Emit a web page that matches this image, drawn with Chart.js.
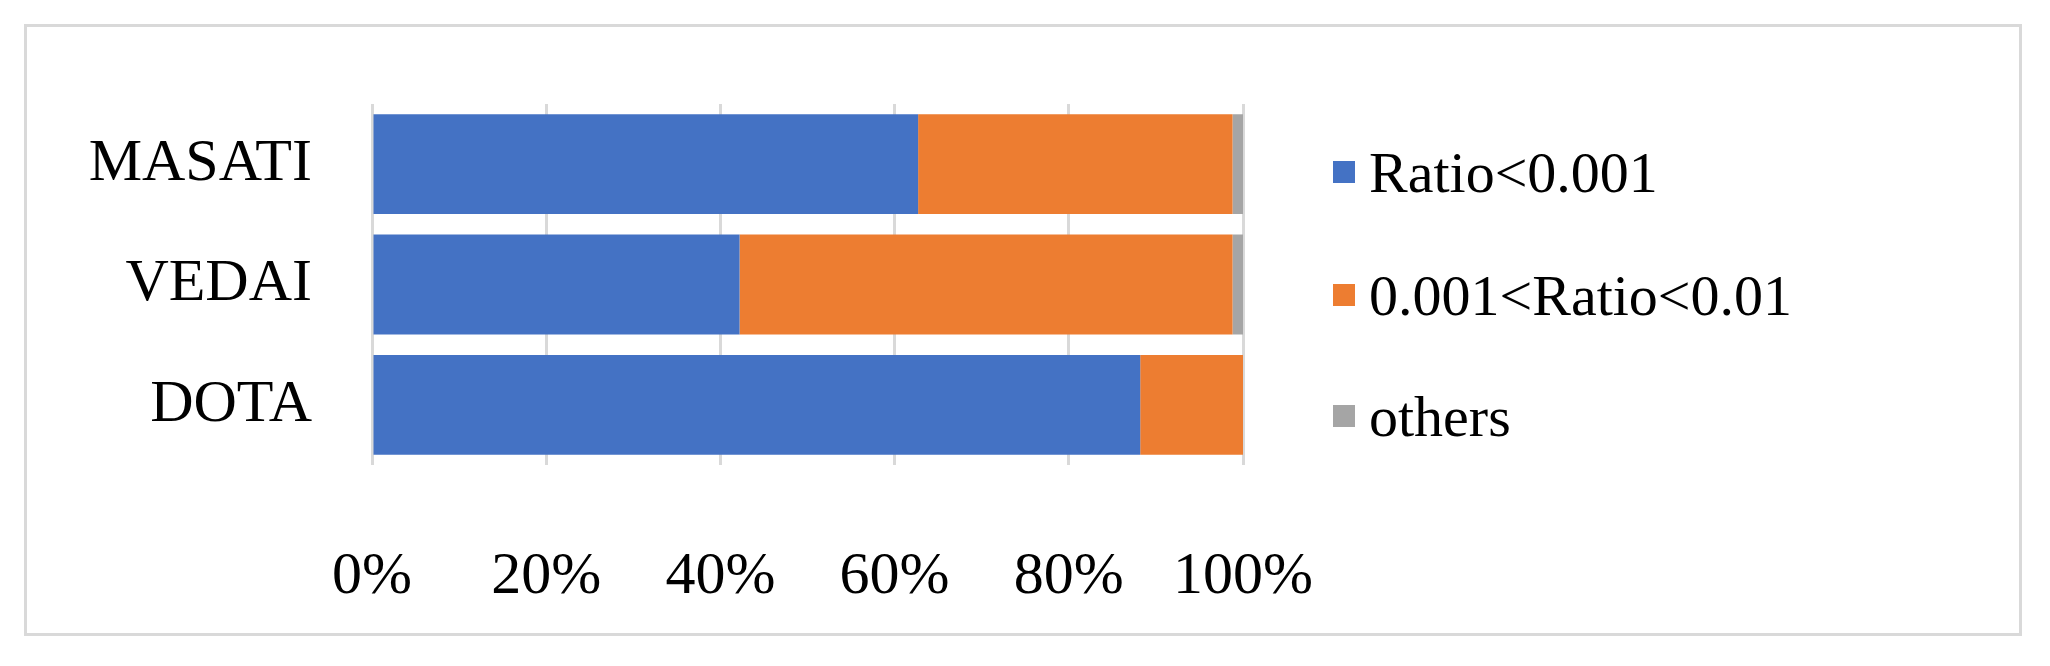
<!DOCTYPE html>
<html><head><meta charset="utf-8">
<script src="https://cdn.jsdelivr.net/npm/chart.js@4"></script>
<style>
html,body{margin:0;padding:0;background:#fff;}
#wrap{position:relative;width:2050px;height:666px;}
#frame{position:absolute;left:24px;top:24px;width:1998px;height:612px;border:3px solid #d9d9d9;box-sizing:border-box;}
.leg{position:absolute;left:1333px;font-family:"Liberation Serif",serif;font-size:58px;color:#000;display:flex;align-items:center;white-space:nowrap;}
.leg span.sw{display:inline-block;width:22px;height:22px;margin-right:14px;}
</style></head>
<body><div id="wrap"><div id="frame"></div><canvas id="c" width="2050" height="666"></canvas>
<div id="legend"></div></div>
<script>
const categories = ["MASATI","VEDAI","DOTA"];
const seriesNames = ["Ratio<0.001","0.001<Ratio<0.01","others"];
const ratioLow = [62.7,42.2,88.2];
const ratioMid = [36.1,56.6,11.8];
const others = [1.2,1.2,0];
const colors = ["#4472c4","#ed7d31","#a5a5a5"];
const allValues = [ratioLow, ratioMid, others];

const leg = document.getElementById('legend');
const legY = [172,295,416];
seriesNames.forEach((n,i)=>{
  const d=document.createElement('div');d.className='leg';d.style.top=(legY[i]-35)+'px';d.style.height='70px';
  const s=document.createElement('span');s.className='sw';s.style.background=colors[i];
  d.appendChild(s);d.appendChild(document.createTextNode(n));leg.appendChild(d);
});
const font={family:"Liberation Serif",size:60};
new Chart(document.getElementById('c'),{
  type:'bar',
  data:{labels:categories,datasets:seriesNames.map((n,i)=>({label:n,data:allValues[i],backgroundColor:colors[i],barPercentage:0.83,categoryPercentage:1}))},
  options:{
    indexAxis:'y',responsive:false,animation:false,
    layout:{padding:{left:0,right:807,top:104,bottom:0}},
    plugins:{legend:{display:false},tooltip:{enabled:false}},
    scales:{
      x:{stacked:true,min:0,max:100,ticks:{stepSize:20,callback:v=>v+'%',font:font,color:'#000',padding:76},
         grid:{color:'#d9d9d9',lineWidth:3,drawTicks:false},border:{display:false},
         afterFit:s=>{s.height=201;}},
      y:{stacked:true,ticks:{font:font,color:'#000',padding:52},grid:{display:false},border:{display:false},
         afterFit:s=>{s.width=372;}}
    }
  }
});
</script></body></html>
